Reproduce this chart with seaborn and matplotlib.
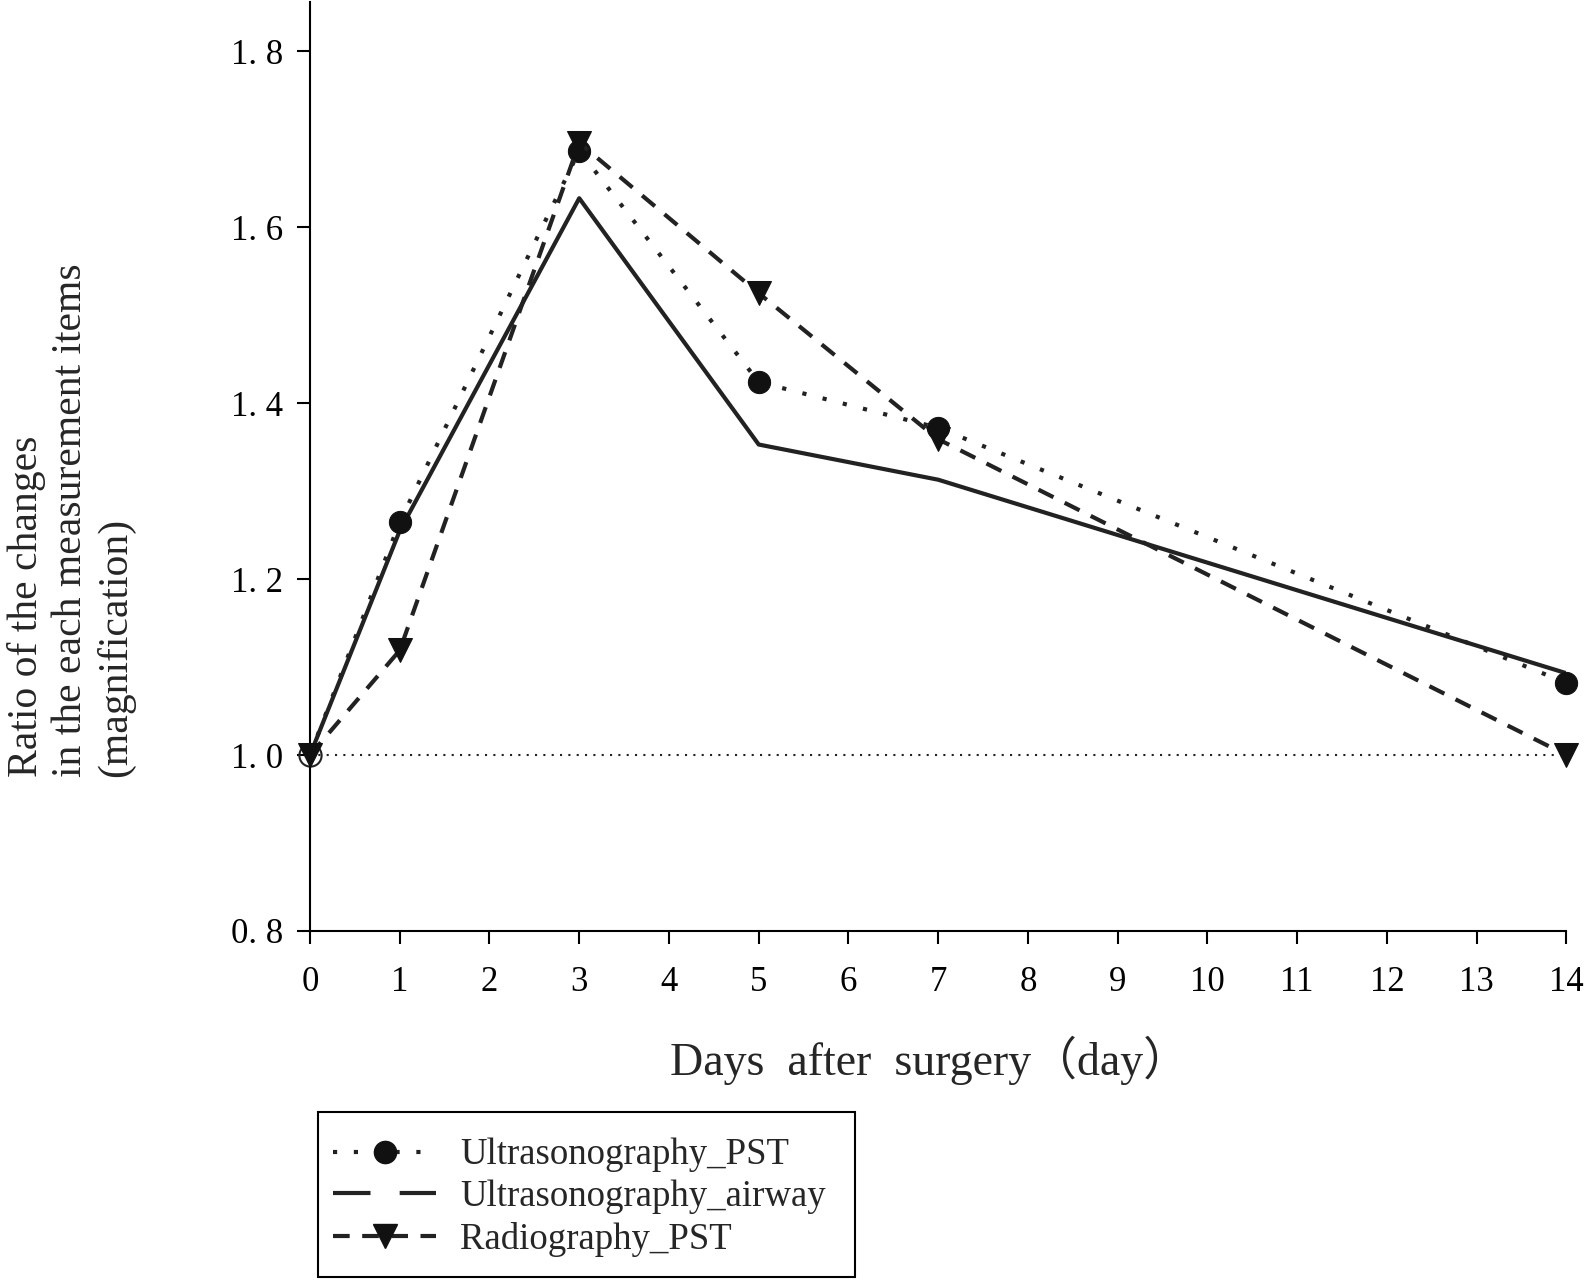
import matplotlib
matplotlib.use("Agg")
import matplotlib.pyplot as plt
from matplotlib.lines import Line2D
from matplotlib.patches import Rectangle
import pandas as pd
import seaborn as sns

# data
days = [0, 1, 3, 5, 7, 14]
us_pst = [1.0, 1.265, 1.687, 1.424, 1.372, 1.082]
us_airway = [1.0, 1.255, 1.633, 1.353, 1.313, 1.093]
rad_pst = [1.0, 1.119, 1.696, 1.525, 1.359, 1.0]
series_names = ["Ultrasonography_PST", "Ultrasonography_airway", "Radiography_PST"]
x_ticks = list(range(0, 15))
y_ticks = [0.8, 1.0, 1.2, 1.4, 1.6, 1.8]
y_tick_labels = ["0. 8", "1. 0", "1. 2", "1. 4", "1. 6", "1. 8"]
baseline = 1.0

sns.set_style("ticks")
plt.rcParams['font.family'] = ['Liberation Serif', 'Noto Sans CJK SC', 'DejaVu Sans']

ink = "#222222"
W, H = 1593, 1282
fig = plt.figure(figsize=(W / 100, H / 100), dpi=100)
ax = fig.add_axes([0.1946, 0.2738, 0.7887, 0.7246])

df = pd.DataFrame({"day": days, "us_pst": us_pst, "us_airway": us_airway, "rad_pst": rad_pst})

ax.axhline(baseline, color=ink, lw=1.5, ls=(0, (1, 3)), zorder=1)

sns.lineplot(data=df, x="day", y="us_airway", ax=ax, color=ink, lw=3, zorder=3)
sns.lineplot(data=df, x="day", y="us_pst", ax=ax, color=ink, lw=3,
             linestyle=(0, (1, 4)), marker="o", markersize=16,
             markerfacecolor="#111111", markeredgecolor="#111111",
             markevery=list(range(1, len(days))), clip_on=False, zorder=4)
# first point of the PST series is drawn open
ax.plot(days[:1], us_pst[:1], "o", mfc="none", mec=ink, ms=16, mew=1.5,
        clip_on=False, zorder=2)
sns.lineplot(data=df, x="day", y="rad_pst", ax=ax, color=ink, lw=3,
             linestyle=(0, (4, 3)), marker="v", markersize=17,
             markerfacecolor="#111111", markeredgecolor="#111111",
             clip_on=False, zorder=5)

ax.set_xlim(0, 14)
ax.set_ylim(0.8, 1.856)
ax.set_xticks(x_ticks)
ax.set_yticks(y_ticks)
ax.set_yticklabels(y_tick_labels)
ax.tick_params(axis="both", direction="out", length=9.5, width=1.5,
               labelsize=25, colors="black")
ax.tick_params(axis="y", pad=10)
ax.tick_params(axis="x", pad=16)
sns.despine(ax=ax)
for s in ["left", "bottom"]:
    ax.spines[s].set_linewidth(1.5)
    ax.spines[s].set_color("black")

ax.set_xlabel("Days  after  surgery（day）", fontsize=33)
ax.xaxis.set_label_coords(0.493, -0.139)
ax.xaxis.label.set_va("center")
ax.set_ylabel("")
fig.text(71 / W, 1 - 777 / H,
         "Ratio of the changes\nin the each measurement items\n(magnification)",
         rotation=90, ha="center", va="bottom", multialignment="left",
         fontsize=30, linespacing=1.2)

handles = [
    Line2D([], [], color=ink, lw=3, ls=(0, (1, 4)), marker="o", ms=16,
           mfc="#111111", mec="#111111"),
    Line2D([], [], color=ink, lw=3, ls=(0, (9, 7))),
    Line2D([], [], color=ink, lw=3, ls=(0, (4, 3)), marker="v", ms=17,
           mfc="#111111", mec="#111111"),
]
fig.legend(handles, series_names, loc="upper left",
           bbox_to_anchor=(333 / W, 1 - 1138 / H), fontsize=26.5, frameon=False,
           handlelength=2.8, handletextpad=0.65, labelspacing=0.2, borderpad=0,
           borderaxespad=0)
fig.patches.append(Rectangle((318 / W, 1 - 1277 / H), (855 - 318) / W, 165 / H,
                             transform=fig.transFigure, fill=False,
                             edgecolor="black", lw=1.5))

fig.savefig("out.png", dpi=100)
